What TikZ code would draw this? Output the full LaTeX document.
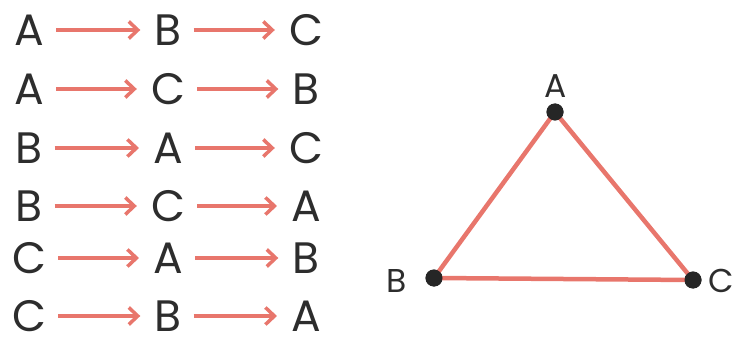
\documentclass[tikz,border=0pt]{standalone}
\usepackage{fontspec}
\setmainfont{Poppins}
\usetikzlibrary{arrows.meta}
\definecolor{salmon}{RGB}{232,118,108}
\definecolor{ink}{RGB}{45,45,45}
\tikzset{
  letter/.style={inner sep=0pt, text=ink, text depth=0pt, anchor=center, font=\fontsize{44}{46}\selectfont},
  vlabel/.style={inner sep=0pt, text=ink, text depth=0pt, font=\fontsize{33}{35}\selectfont},
  arr/.style={draw=salmon, line width=4.5pt, -{Straight Barb[length=9pt,width=17pt,line width=3.5pt]}, shorten <=12pt, shorten >=14pt},
  edge/.style={draw=salmon, line width=4.5pt},
  dot/.style={circle, fill=black!85, inner sep=0pt, minimum size=17pt}
}
\begin{document}
\begin{tikzpicture}[x=1pt,y=-1pt]
\useasboundingbox (0,0) rectangle (732,345);
% rows
\foreach \r/\y/\a/\b/\c in {1/30/A/B/C, 2/89/A/C/B, 3/148/B/A/C, 4/206/B/C/A, 5/258/C/A/B, 6/316/C/B/A}{
  \node[letter] (r\r a) at (29,\y) {\a};
  \node[letter] (r\r b) at (168,\y) {\b};
  \node[letter] (r\r c) at (306,\y) {\c};
  \draw[arr] (r\r a) -- (r\r b);
  \draw[arr] (r\r b) -- (r\r c);
}
% triangle
\node[dot] (A) at (555,112) {};
\node[dot] (B) at (434,278) {};
\node[dot] (C) at (693,280) {};
\draw[edge] (A.center) -- (B.center) -- (C.center) -- cycle;
\node[dot] at (A) {};
\node[dot] at (B) {};
\node[dot] at (C) {};
\node[vlabel] (la) at (556,86) {A};
\node[vlabel] (lb) at (397,281) {B};
\node[vlabel] (lc) at (721,281) {C};
\end{tikzpicture}
\end{document}
